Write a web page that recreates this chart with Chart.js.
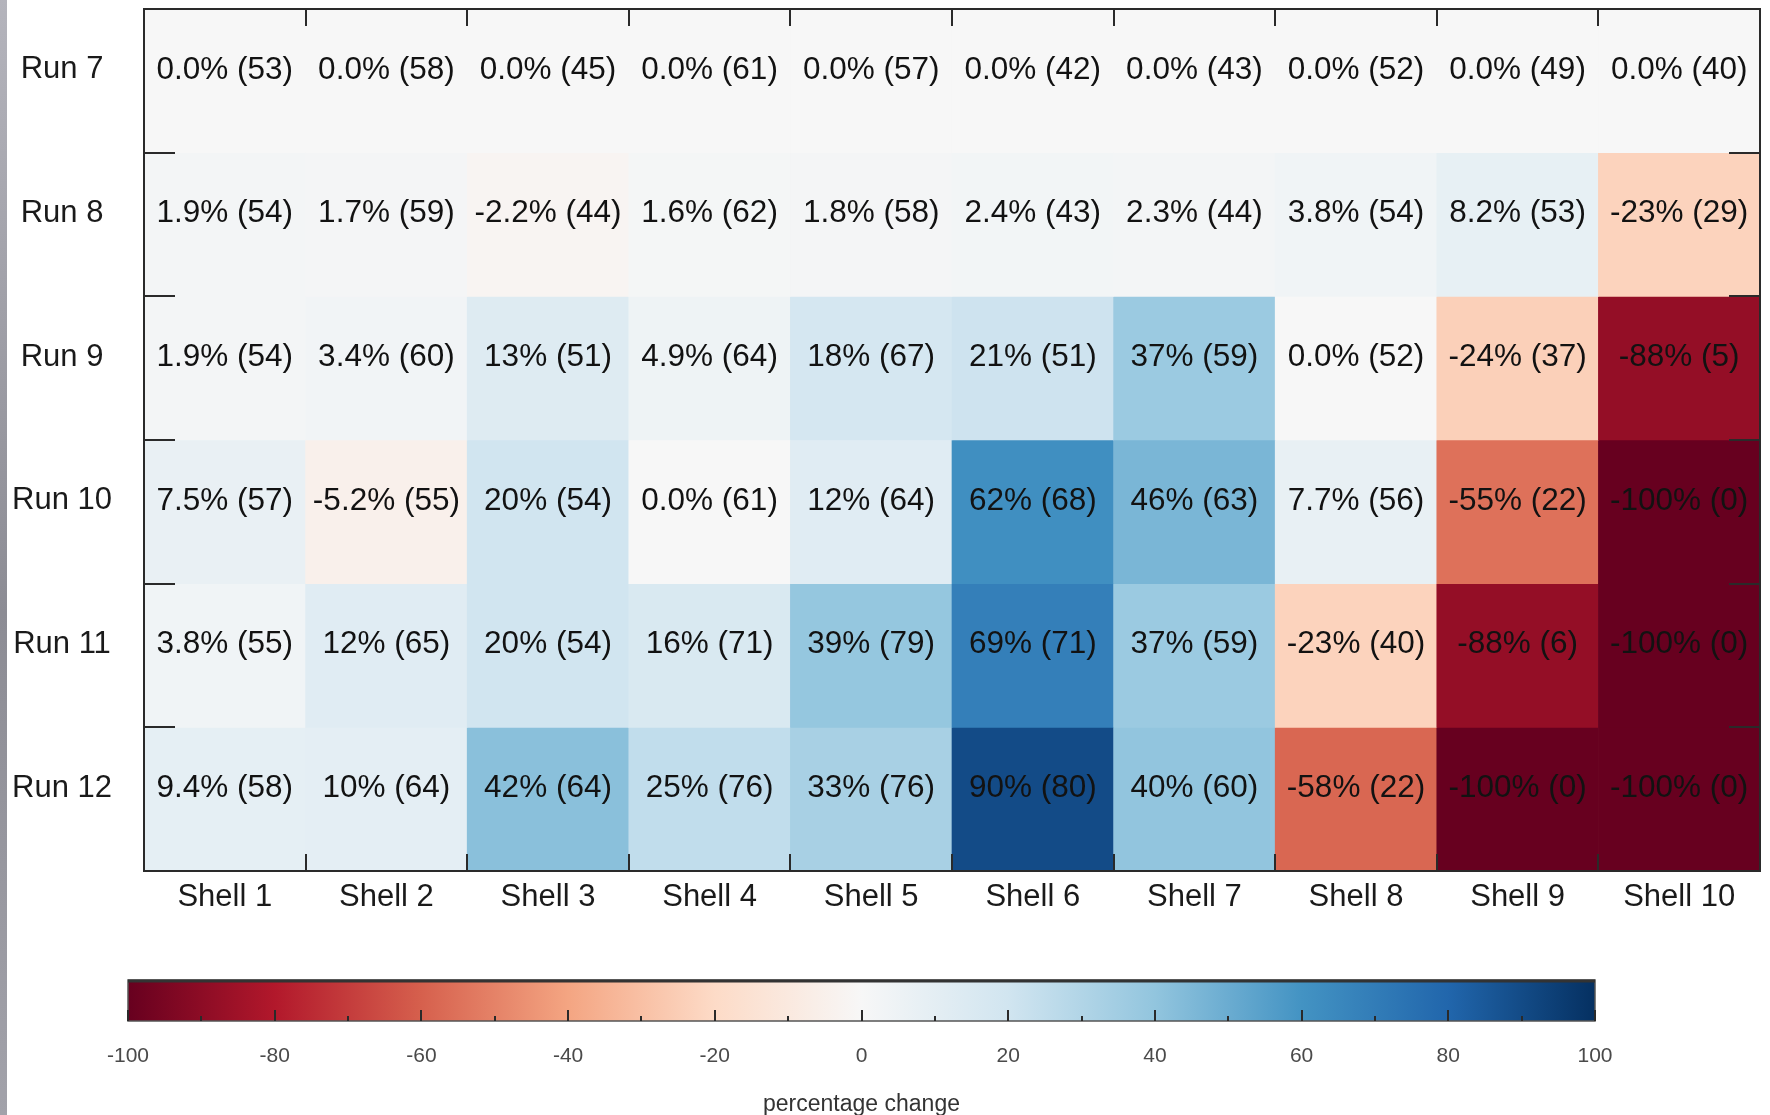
<!DOCTYPE html>
<html>
<head>
<meta charset="utf-8">
<title>Percentage change per shell and run</title>
<script src="https://cdn.jsdelivr.net/npm/chart.js@4.4.1/dist/chart.umd.min.js"></script>
<style>
  html, body { margin: 0; padding: 0; background: #fff; }
  body { width: 1770px; height: 1115px; position: relative; overflow: hidden; }
  #edge {
    position: absolute; left: 0; top: 0; width: 7px; height: 1115px; z-index: 2;
    background: linear-gradient(to bottom, #b4b4bc, #8c8c94 55%, #a2a2aa);
  }
  #heatmap { position: absolute; left: 0; top: 0; }
  #colorbar { position: absolute; left: 0; top: 940px; }
</style>
</head>
<body>
<div id="edge"></div>
<canvas id="heatmap" width="1770" height="940"></canvas>
<canvas id="colorbar" width="1770" height="180"></canvas>
<script>
const runLabels = ['Run 7', 'Run 8', 'Run 9', 'Run 10', 'Run 11', 'Run 12'];
const shellLabels = ['Shell 1', 'Shell 2', 'Shell 3', 'Shell 4', 'Shell 5', 'Shell 6', 'Shell 7', 'Shell 8', 'Shell 9', 'Shell 10'];

// percentage change vs Run 7, one array per run
const pctRun7 = [0, 0, 0, 0, 0, 0, 0, 0, 0, 0];
const pctRun8 = [1.9, 1.7, -2.2, 1.6, 1.8, 2.4, 2.3, 3.8, 8.2, -23];
const pctRun9 = [1.9, 3.4, 13, 4.9, 18, 21, 37, 0, -24, -88];
const pctRun10 = [7.5, -5.2, 20, 0, 12, 62, 46, 7.7, -55, -100];
const pctRun11 = [3.8, 12, 20, 16, 39, 69, 37, -23, -88, -100];
const pctRun12 = [9.4, 10, 42, 25, 33, 90, 40, -58, -100, -100];

// counts shown in brackets
const countRun7 = [53, 58, 45, 61, 57, 42, 43, 52, 49, 40];
const countRun8 = [54, 59, 44, 62, 58, 43, 44, 54, 53, 29];
const countRun9 = [54, 60, 51, 64, 67, 51, 59, 52, 37, 5];
const countRun10 = [57, 55, 54, 61, 64, 68, 63, 56, 22, 0];
const countRun11 = [55, 65, 54, 71, 79, 71, 59, 40, 6, 0];
const countRun12 = [58, 64, 64, 76, 76, 80, 60, 22, 0, 0];

const cbMajorTicks = [-100, -80, -60, -40, -20, 0, 20, 40, 60, 80, 100];
const cbMinorTicks = [-90, -70, -50, -30, -10, 10, 30, 50, 70, 90];

(function () {
  const FONT = '"Liberation Sans", Arial, Helvetica, sans-serif';
  // RdBu, red at -100 through white to blue at +100
  const RDBU = ['#67001f', '#b2182b', '#d6604d', '#f4a582', '#fddbc7', '#f7f7f7',
    '#d1e5f0', '#92c5de', '#4393c3', '#2166ac', '#053061'];

  const pctRows = [pctRun7, pctRun8, pctRun9, pctRun10, pctRun11, pctRun12];
  const countRows = [countRun7, countRun8, countRun9, countRun10, countRun11, countRun12];

  const state = { charts: {} };
  const els = {
    heatmap: document.getElementById('heatmap'),
    colorbar: document.getElementById('colorbar'),
  };

  function hexToRgb(hex) {
    const n = parseInt(hex.slice(1), 16);
    return [(n >> 16) & 255, (n >> 8) & 255, n & 255];
  }

  function colorFor(value) {
    const v = Math.max(-100, Math.min(100, Number(value)));
    const pos = (v + 100) / 20;
    const i = Math.min(RDBU.length - 2, Math.floor(pos));
    const t = pos - i;
    const a = hexToRgb(RDBU[i]);
    const b = hexToRgb(RDBU[i + 1]);
    const c = a.map((ch, k) => Math.round(ch + (b[k] - ch) * t));
    return `rgb(${c[0]},${c[1]},${c[2]})`;
  }

  function fmtPct(value) {
    const n = Number(value);
    return Math.abs(n) < 10 ? n.toFixed(1) : n.toFixed(0);
  }

  const cellText = {
    id: 'cellText',
    afterDatasetsDraw(chart) {
      const ctx = chart.ctx;
      ctx.save();
      ctx.font = `31.5px ${FONT}`;
      ctx.fillStyle = '#121212';
      ctx.textAlign = 'center';
      ctx.textBaseline = 'middle';
      chart.data.datasets.forEach((ds, d) => {
        chart.getDatasetMeta(d).data.forEach((bar, i) => {
          const y = (bar.y + bar.base) / 2 - 11;
          ctx.fillText(`${fmtPct(ds.pct[i])}% (${ds.counts[i]})`, bar.x, y);
        });
      });
      ctx.restore();
    }
  };

  const heatFrame = {
    id: 'heatFrame',
    afterDraw(chart) {
      const { ctx, chartArea: a } = chart;
      const x = chart.scales.x;
      const y = chart.scales.y;
      ctx.save();
      ctx.strokeStyle = '#2a2a2a';
      ctx.lineWidth = 2;
      ctx.strokeRect(a.left, a.top, a.right - a.left, a.bottom - a.top);
      ctx.beginPath();
      for (let i = 1; i < shellLabels.length; i++) {
        const px = Math.round((x.getPixelForValue(i - 1) + x.getPixelForValue(i)) / 2);
        ctx.moveTo(px, a.top); ctx.lineTo(px, a.top + 17);
        ctx.moveTo(px, a.bottom); ctx.lineTo(px, a.bottom - 17);
      }
      for (let r = 1; r < runLabels.length; r++) {
        const py = Math.round(y.getPixelForValue(r));
        ctx.moveTo(a.left, py); ctx.lineTo(a.left + 31, py);
        ctx.moveTo(a.right, py); ctx.lineTo(a.right - 31, py);
      }
      ctx.stroke();
      ctx.restore();
    }
  };

  const barFrame = {
    id: 'barFrame',
    afterDraw(chart) {
      const { ctx, chartArea: a } = chart;
      const x = chart.scales.x;
      ctx.save();
      ctx.strokeStyle = '#555';
      ctx.lineWidth = 1.5;
      ctx.strokeRect(a.left, a.top, a.right - a.left, a.bottom - a.top);
      ctx.strokeStyle = '#333';
      ctx.lineWidth = 3;
      ctx.beginPath();
      ctx.moveTo(a.left, a.top + 1); ctx.lineTo(a.right, a.top + 1);
      ctx.stroke();
      ctx.lineWidth = 2;
      ctx.strokeStyle = '#2a2a2a';
      ctx.beginPath();
      cbMajorTicks.forEach((v) => {
        const px = Math.round(x.getPixelForValue(v));
        ctx.moveTo(px, a.bottom); ctx.lineTo(px, a.bottom - 11);
      });
      cbMinorTicks.forEach((v) => {
        const px = Math.round(x.getPixelForValue(v));
        ctx.moveTo(px, a.bottom); ctx.lineTo(px, a.bottom - 5);
      });
      ctx.stroke();
      ctx.restore();
    }
  };

  function upsertChart(name, canvas, config) {
    if (!canvas || typeof Chart === 'undefined') return;
    if (state.charts[name]) state.charts[name].destroy();
    state.charts[name] = new Chart(canvas, config);
  }

  function renderHeatmap() {
    const datasets = runLabels.map((run, r) => ({
      label: run,
      data: shellLabels.map(() => [r, r + 1]),
      backgroundColor: pctRows[r].map(colorFor),
      borderWidth: 0,
      barPercentage: 1,
      categoryPercentage: 1,
      pct: pctRows[r],
      counts: countRows[r]
    }));
    upsertChart('heatmap', els.heatmap, {
      type: 'bar',
      data: { labels: shellLabels, datasets },
      options: {
        responsive: false,
        animation: false,
        events: [],
        layout: { padding: { top: 9, right: 10, left: 0, bottom: 0 } },
        plugins: { legend: { display: false }, tooltip: { enabled: false } },
        scales: {
          x: {
            type: 'category',
            stacked: true,
            offset: true,
            grid: { display: false, drawTicks: false },
            border: { display: false },
            ticks: { color: '#1a1a1a', font: { family: FONT, size: 31 }, padding: 8, maxRotation: 0, autoSkip: false },
            afterFit: (s) => { s.height = 69; s.paddingLeft = 0; s.paddingRight = 0; }
          },
          y: {
            type: 'linear',
            min: 0,
            max: runLabels.length,
            reverse: true,
            stacked: false,
            grid: { display: false, drawTicks: false },
            border: { display: false },
            afterBuildTicks: (s) => { s.ticks = runLabels.map((_, i) => ({ value: i + 0.5 })); },
            ticks: {
              callback: (v, i) => runLabels[i],
              crossAlign: 'center',
              padding: 32,
              labelOffset: -11,
              color: '#1a1a1a',
              font: { family: FONT, size: 31 },
              autoSkip: false
            },
            // label padding must not push the plot box down
            afterFit: (s) => { s.width = 144; s.paddingTop = 0; s.paddingBottom = 0; }
          }
        }
      },
      plugins: [cellText, heatFrame]
    });
  }

  function gradientFill(context) {
    const chart = context.chart;
    const a = chart.chartArea;
    if (!a) return RDBU[5];
    const g = chart.ctx.createLinearGradient(a.left, 0, a.right, 0);
    RDBU.forEach((c, i) => g.addColorStop(i / (RDBU.length - 1), c));
    return g;
  }

  function renderColorbar() {
    upsertChart('colorbar', els.colorbar, {
      type: 'bar',
      data: {
        labels: [''],
        datasets: [{
          data: [[cbMajorTicks[0], cbMajorTicks[cbMajorTicks.length - 1]]],
          backgroundColor: gradientFill,
          borderWidth: 0,
          barPercentage: 1,
          categoryPercentage: 1
        }]
      },
      options: {
        indexAxis: 'y',
        responsive: false,
        animation: false,
        events: [],
        layout: { padding: { left: 128, right: 175, top: 40, bottom: 0 } },
        plugins: { legend: { display: false }, tooltip: { enabled: false } },
        scales: {
          y: { display: false },
          x: {
            type: 'linear',
            min: -100,
            max: 100,
            grid: { display: false, drawTicks: false },
            border: { display: false },
            afterBuildTicks: (s) => { s.ticks = cbMajorTicks.map((v) => ({ value: v })); },
            ticks: { color: '#4a4a4a', font: { family: FONT, size: 21 }, padding: 23, maxRotation: 0, autoSkip: false },
            title: {
              display: true,
              text: 'percentage change',
              color: '#333',
              font: { family: FONT, size: 23 },
              padding: { top: 0, bottom: 2 }
            },
            afterFit: (s) => { s.height = 99; }
          }
        }
      },
      plugins: [barFrame]
    });
  }

  function renderAll() {
    try {
      renderHeatmap();
      renderColorbar();
    } catch (err) {
      console.error(err);
    }
  }

  renderAll();
})();
</script>
</body>
</html>
